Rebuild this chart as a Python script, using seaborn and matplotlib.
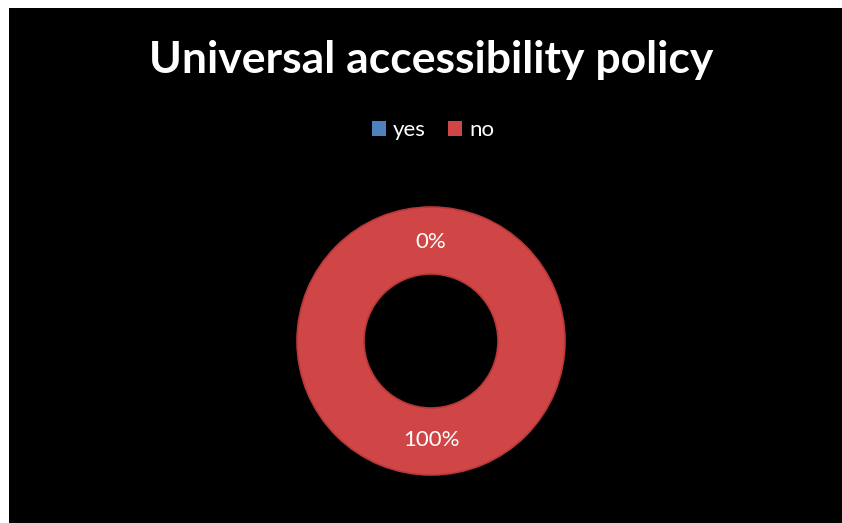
import matplotlib
matplotlib.use("Agg")
import matplotlib.pyplot as plt
import seaborn as sns
import numpy as np

# chart data
categories = ["yes", "no"]
values = [0, 100]
pct_labels = ["0%", "100%"]
title = "Universal accessibility policy"

sns.set_theme(style="white")
plt.rcParams["font.family"] = ["Lato", "DejaVu Sans"]

colors = ["#4F81BD", "#D04545"]

W, H = 842, 523
fig = plt.figure(figsize=(W / 100, H / 100), dpi=100)
fig.patch.set_facecolor("white")

# black chart area (white strip on left and top)
bg = fig.add_axes([9 / W, 0, (W - 9) / W, (H - 8) / H])
bg.set_facecolor("black")
bg.set_xticks([])
bg.set_yticks([])
for s in bg.spines.values():
    s.set_visible(False)

# donut
cx, cy, r = 431, H - 341, 134
ax = fig.add_axes([(cx - r) / W, (cy - r) / H, 2 * r / W, 2 * r / H])
ax.set_facecolor("none")
wedges, _ = ax.pie(values, colors=colors, startangle=90, counterclock=False,
                   radius=1, wedgeprops=dict(width=0.5, edgecolor="#B83838", linewidth=1.2))
ax.set_xlim(-1, 1)
ax.set_ylim(-1, 1)
ax.axis("off")

# percentage labels placed at the middle of each wedge
start = 90
total = sum(values)
for v, lab in zip(values, pct_labels):
    mid = start - 360 * v / total / 2
    ang = np.deg2rad(mid)
    ax.text(0.74 * np.cos(ang), 0.74 * np.sin(ang), lab, ha="center", va="center",
            color="white", fontsize=16)
    start -= 360 * v / total

fig.text(cx / W, 1 - 60 / H, title, ha="center", va="center", color="white",
         fontsize=32, fontweight="bold")

handles = [plt.Rectangle((0, 0), 1, 1, facecolor=c, edgecolor="none") for c in colors]
leg = fig.legend(handles, categories, loc="center", bbox_to_anchor=(433 / W, 1 - 130 / H),
                 ncol=2, frameon=False, fontsize=16, handlelength=0.65, handleheight=0.65,
                 handletextpad=0.3, columnspacing=1.0)
for t in leg.get_texts():
    t.set_color("white")

fig.savefig("out.png", dpi=100, facecolor=fig.get_facecolor())
